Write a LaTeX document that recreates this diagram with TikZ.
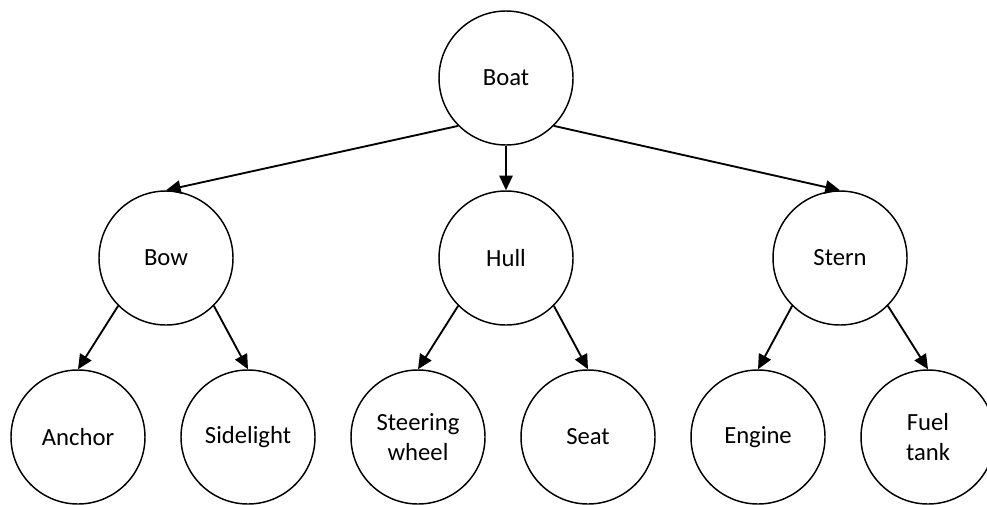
\documentclass[tikz,border=0pt]{standalone}
\usepackage{fontspec}
\setmainfont{Carlito}
\usetikzlibrary{arrows.meta}
\begin{document}
\begin{tikzpicture}[x=0.75pt,y=-0.75pt,
  part/.style={draw, circle, line width=1.1pt, minimum size=100.5pt, inner sep=0pt,
    align=center, font=\fontsize{18.5}{22.5}\selectfont},
  link/.style={line width=1.4pt, -{Triangle[length=11pt,width=10pt]}}]
\useasboundingbox (0,0) rectangle (987,504);
% root
\node[part] (boat) at (506,78) {Boat};
% second level
\node[part] (bow)   at (166,258) {Bow};
\node[part] (hull)  at (506,258) {Hull};
\node[part] (stern) at (840,258) {Stern};
% leaves
\node[part] (anchor)   at (78,437)  {Anchor};
\node[part] (side)     at (248,437) {Sidelight};
\node[part] (steer)    at (418,437) {Steering\\wheel};
\node[part] (seat)     at (588,437) {Seat};
\node[part] (engine)   at (758,437) {Engine};
\node[part] (fuel)     at (928,437) {Fuel\\tank};
% connectors
\draw[link] (boat.south west) -- (bow.north);
\draw[link] (boat.south) -- (hull.north);
\draw[link] (boat.south east) -- (stern.north);
\draw[link] (bow.south west) -- (anchor.north);
\draw[link] (bow.south east) -- (side.north);
\draw[link] (hull.south west) -- (steer.north);
\draw[link] (hull.south east) -- (seat.north);
\draw[link] (stern.south west) -- (engine.north);
\draw[link] (stern.south east) -- (fuel.north);
\end{tikzpicture}
\end{document}
